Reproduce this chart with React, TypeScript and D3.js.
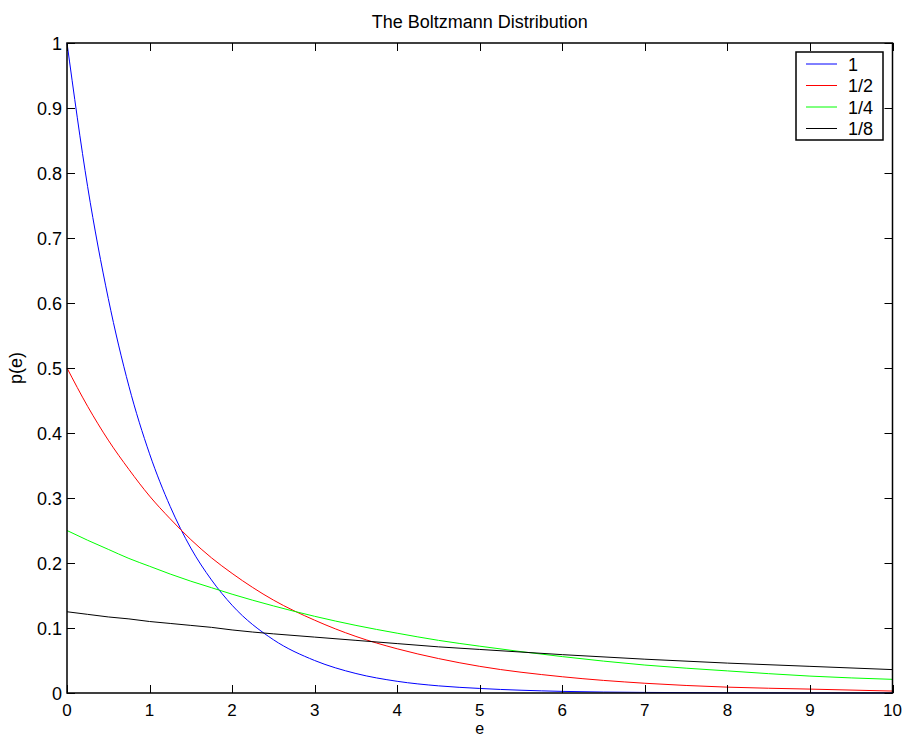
import { useEffect, useRef } from "react";
import * as d3 from "d3";

// energy grid (x) and p(e) for each temperature
const energies = [0, 0.25, 0.5, 0.75, 1, 1.25, 1.5, 1.75, 2, 2.5, 3, 3.5, 4, 4.5, 5, 6, 7, 8, 9, 10];
const pT1 = [1, 0.779, 0.607, 0.472, 0.368, 0.287, 0.223, 0.174, 0.135, 0.082, 0.05, 0.03, 0.018, 0.011, 0.007, 0.0025, 0.0009, 0.0003, 0.0001, 0.00005];
const pT2 = [0.5, 0.441, 0.389, 0.344, 0.303, 0.268, 0.236, 0.208, 0.184, 0.143, 0.112, 0.087, 0.068, 0.053, 0.041, 0.025, 0.015, 0.009, 0.006, 0.003];
const pT4 = [0.25, 0.235, 0.221, 0.207, 0.195, 0.183, 0.172, 0.162, 0.152, 0.134, 0.118, 0.104, 0.092, 0.081, 0.072, 0.056, 0.043, 0.034, 0.026, 0.021];
const pT8 = [0.125, 0.121, 0.117, 0.114, 0.11, 0.107, 0.104, 0.101, 0.097, 0.091, 0.086, 0.081, 0.076, 0.071, 0.067, 0.059, 0.052, 0.046, 0.041, 0.036];
const seriesNames = ["1", "1/2", "1/4", "1/8"];
const seriesColors = ["#0000ff", "#ff0000", "#00ff00", "#000000"];
const xTicks = [0, 1, 2, 3, 4, 5, 6, 7, 8, 9, 10];
const yTicks = [0, 0.1, 0.2, 0.3, 0.4, 0.5, 0.6, 0.7, 0.8, 0.9, 1];

export default function App() {
  const ref = useRef<SVGSVGElement>(null);

  useEffect(() => {
    const svg = d3.select(ref.current);
    svg.selectAll("*").remove();
    const font = "'Liberation Sans', Arial, sans-serif";
    const fs = 18;
    const left = 67, right = 892.5, top = 43, bottom = 693;

    const x = d3.scaleLinear().domain([0, 10]).range([left, right]);
    const y = d3.scaleLinear().domain([0, 1]).range([bottom, top]);

    svg.append("rect").attr("width", 904).attr("height", 738).attr("fill", "white");

    const all = [pT1, pT2, pT4, pT8];
    const line = d3
      .line<number>()
      .x((_, i) => x(energies[i]))
      .y((d) => y(d))
      .curve(d3.curveMonotoneX);

    all.forEach((vals, k) => {
      svg
        .append("path")
        .attr("d", line(vals))
        .attr("fill", "none")
        .attr("stroke", seriesColors[k])
        .attr("stroke-width", 1);
    });

    // box + inward ticks
    const tl = 8;
    const g = svg.append("g").attr("stroke", "black").attr("stroke-width", 1);
    xTicks.forEach((t) => {
      const px = Math.round(x(t)) + 0.5;
      g.append("line").attr("x1", px).attr("x2", px).attr("y1", bottom).attr("y2", bottom - tl);
      g.append("line").attr("x1", px).attr("x2", px).attr("y1", top).attr("y2", top + tl);
    });
    yTicks.forEach((t) => {
      const py = Math.round(y(t)) + 0.5;
      g.append("line").attr("x1", left).attr("x2", left + tl).attr("y1", py).attr("y2", py);
      g.append("line").attr("x1", right).attr("x2", right - tl).attr("y1", py).attr("y2", py);
    });
    svg
      .append("rect")
      .attr("x", left)
      .attr("y", top)
      .attr("width", right - left)
      .attr("height", bottom - top)
      .attr("fill", "none")
      .attr("stroke", "black")
      .attr("stroke-width", 1.5);

    const txt = svg.append("g").attr("font-family", font).attr("font-size", fs).attr("fill", "black");
    xTicks.forEach((t) => {
      txt.append("text").attr("x", x(t)).attr("y", bottom + 22.5).attr("font-size", 17).attr("text-anchor", "middle").text(d3.format("~g")(t));
    });
    yTicks.forEach((t) => {
      txt.append("text").attr("x", left - 5).attr("y", y(t) + 6.5).attr("text-anchor", "end").text(d3.format("~g")(t));
    });
    txt.append("text").attr("x", (left + right) / 2).attr("y", 28).attr("text-anchor", "middle").text("The Boltzmann Distribution");
    txt.append("text").attr("x", (left + right) / 2).attr("y", 734).attr("font-size", 16).attr("text-anchor", "middle").text("e");
    txt
      .append("text")
      .attr("transform", `translate(22,${(top + bottom) / 2}) rotate(-90)`)
      .attr("text-anchor", "middle")
      .text("p(e)");

    // legend
    const lg = svg.append("g");
    lg.append("rect").attr("x", 796).attr("y", 52).attr("width", 87).attr("height", 88).attr("fill", "white").attr("stroke", "black").attr("stroke-width", 1.5);
    seriesNames.forEach((n, k) => {
      const ly = 64 + k * 21.5;
      lg.append("line").attr("x1", 806).attr("x2", 837).attr("y1", ly).attr("y2", ly).attr("stroke", seriesColors[k]).attr("stroke-width", 1);
      lg.append("text").attr("x", 848).attr("y", ly + 6.5).attr("font-family", font).attr("font-size", fs).text(n);
    });
  }, []);

  return (
    <svg
      ref={ref}
      width={904}
      height={738}
      style={{ position: "absolute", left: 0, top: 0, display: "block" }}
    />
  );
}
